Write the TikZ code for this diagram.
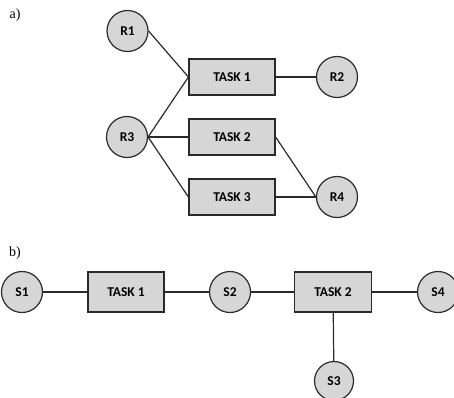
\documentclass[tikz,border=0pt]{standalone}
\usepackage{fontspec}
\setmainfont{Liberation Serif}
\newfontfamily\labelfont[BoldFont={Carlito Bold}]{Carlito}
\begin{document}
\begin{tikzpicture}[x=1pt,y=-1pt,
  res/.style={circle,draw=linegray,fill=boxgray,line width=1.2pt,minimum size=41pt,inner sep=0pt,
    font=\labelfont\bfseries\fontsize{13.5}{15}\selectfont},
  task/.style={rectangle,draw=linegray,fill=boxgray,line width=1.2pt,minimum width=86pt,minimum height=36pt,inner sep=0pt,
    font=\labelfont\bfseries\fontsize{13.5}{15}\selectfont},
  link/.style={draw=linegray,line width=1.2pt},
  part/.style={font=\fontsize{14}{16}\selectfont,inner sep=0pt}]
\definecolor{boxgray}{HTML}{D6D6D6}
\definecolor{linegray}{HTML}{2A2A2A}
\useasboundingbox (0,0) rectangle (454,397);

% part a
\node[part] (pa) at (15,15) {a)};
\node[res] (r1) at (127.5,31) {R1};
\node[task] (t1) at (232,77) {TASK 1};
\node[res] (r2) at (337,77) {R2};
\node[res] (r3) at (127,137) {R3};
\node[task] (t2) at (232,137) {TASK 2};
\node[task] (t3) at (232,197) {TASK 3};
\node[res] (r4) at (337,197) {R4};

\draw[link] (r1.east) -- (t1.west);
\draw[link] (r3.east) -- (t1.west);
\draw[link] (r3.east) -- (t2.west);
\draw[link] (r3.east) -- (t3.west);
\draw[link] (t1.east) -- (r2.west);
\draw[link] (t2.east) -- (r4.west);
\draw[link] (t3.east) -- (r4.west);

% part b
\node[part] (pb) at (15,253) {b)};
\node[res] (s1) at (22,292) {S1};
\node[task,minimum width=76pt,minimum height=40pt] (bt1) at (126,292) {TASK 1};
\node[res] (s2) at (230,292) {S2};
\node[task,minimum width=77pt,minimum height=40pt] (bt2) at (333,292) {TASK 2};
\node[res] (s4) at (438,292) {S4};
\node[res,minimum size=39pt] (s3) at (334,381) {S3};

\draw[link] (s1) -- (bt1);
\draw[link] (bt1) -- (s2);
\draw[link] (s2) -- (bt2);
\draw[link] (bt2) -- (s4);
\draw[link] (bt2) -- (s3);
\end{tikzpicture}
\end{document}
